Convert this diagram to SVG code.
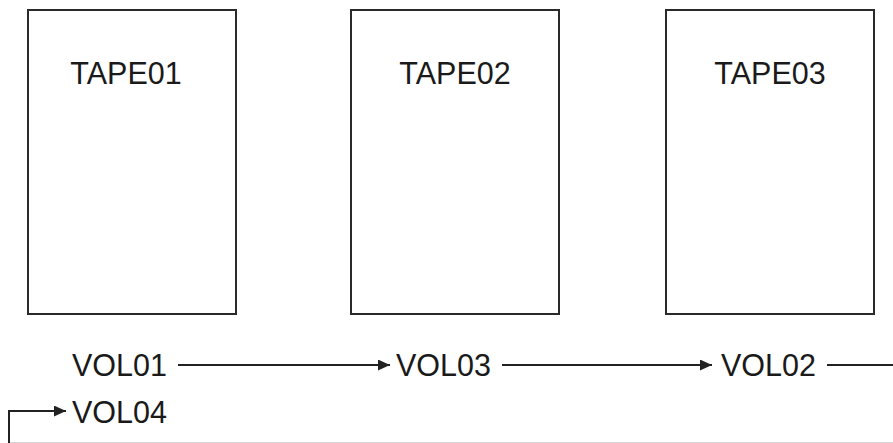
<svg xmlns="http://www.w3.org/2000/svg" width="893" height="443" viewBox="0 0 893 443">
<style>
.box{fill:#fff;stroke:#2a2a2a;stroke-width:2}
.t{font-family:"Liberation Sans",Arial,sans-serif;font-size:30.5px;fill:#1a1a1a}
.c{fill:none;stroke:#222;stroke-width:2}
</style>
<defs>
<marker id="ah" viewBox="0 0 12 11" refX="12" refY="5.5" markerWidth="12" markerHeight="11" markerUnits="userSpaceOnUse" orient="auto">
<path d="M0,0 L12,5.5 L0,11 z" fill="#222"/>
</marker>
</defs>
<rect width="893" height="443" fill="#fff"/>
<g id="tape01"><rect class="box" x="28" y="10" width="208" height="304"/><text class="t" x="126" y="84" text-anchor="middle">TAPE01</text></g>
<g id="tape02"><rect class="box" x="351" y="10" width="208" height="304"/><text class="t" x="455" y="84" text-anchor="middle">TAPE02</text></g>
<g id="tape03"><rect class="box" x="666" y="10" width="208" height="304"/><text class="t" x="770" y="84" text-anchor="middle">TAPE03</text></g>
<g id="vol01"><text class="t" x="72" y="376">VOL01</text></g>
<g id="vol03"><text class="t" x="396" y="376">VOL03</text></g>
<g id="vol02"><text class="t" x="721" y="376">VOL02</text></g>
<g id="vol04"><text class="t" x="72" y="423">VOL04</text></g>
<g id="connectors">
<path class="c" d="M178,365 H390" marker-end="url(#ah)"/>
<path class="c" d="M502,365 H712" marker-end="url(#ah)"/>
<path class="c" d="M827,365 H895"/>
<line x1="9" y1="442.5" x2="893" y2="442.5" stroke="#d4d4d4" stroke-width="1"/>
<path class="c" d="M9,443 V411 H66" marker-end="url(#ah)"/>
</g>
</svg>
